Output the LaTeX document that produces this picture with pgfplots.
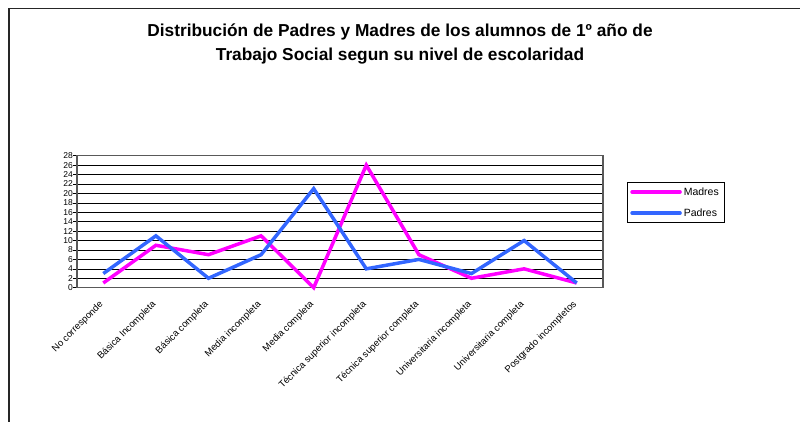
\documentclass[border=0pt]{standalone}
\usepackage{pgfplots}
\pgfplotsset{compat=1.18}
\usepackage{fontspec}
\setmainfont{Liberation Sans}
\definecolor{madres}{HTML}{FF00FF}
\definecolor{padres}{HTML}{3366FF}
\begin{document}
\begin{tikzpicture}[x=1pt,y=1pt]
\path[use as bounding box] (0pt,0pt) rectangle (800pt,422pt);
\draw[line width=1.5pt, black!85] (9pt,0pt) -- (9pt,413.5pt) -- (800pt,413.5pt);
\node[font=\bfseries\fontsize{17.3}{24}\selectfont, align=center] at (400pt,378pt) {Distribución de Padres y Madres de los alumnos de 1º año de\\Trabajo Social segun su nivel de escolaridad};
\begin{axis}[
  at={(77pt,134.3pt)}, anchor=south west,
  scale only axis, width=526pt, height=132pt,
  xmin=-0.5, xmax=9.5, ymin=0, ymax=28,
  ytick={0,2,...,28},
  ymajorgrids, grid style={black, line width=0.6pt},
  axis line style={gray!70!black, line width=1.2pt},
  xtick={0,...,9},
  xticklabels={No corresponde, Básica Incompleta, Básica completa, Media incompleta, Media completa, Técnica superior incompleta, Técnica superior completa, Universitaria incompleta, Universitaria completa, Postgrado incompletos},
  x tick style={draw=none},
  extra x ticks={-0.5,0.5,...,9.5},
  extra x tick labels={},
  extra x tick style={major tick length=4pt, tick style={black, line width=0.6pt}, tick align=outside},
  y tick style={black, line width=0.6pt},
  major tick length=4pt, tick align=outside,
  xtick pos=bottom, ytick pos=left,
  xticklabel style={rotate=45, anchor=east, font=\fontsize{9.5}{10}\selectfont, yshift=-7pt, xshift=-8pt},
  yticklabel style={font=\fontsize{8.5}{9}\selectfont, xshift=1pt},
  /pgf/number format/assume math mode=true,
  tick label style={inner sep=1pt},
  legend style={at={(1.0456,0.80)}, anchor=north west, draw=black, line width=0.6pt,
    font=\fontsize{10.5}{11}\selectfont, inner sep=3pt, row sep=8pt, cells={anchor=west}},
  legend image code/.code={\draw[#1, line width=3.5pt, line cap=round] (0pt,0pt) -- (48pt,0pt);},
  clip=false,
]
\addplot[madres, line width=3.5pt, line join=miter] coordinates {(0,1) (1,9) (2,7) (3,11) (4,0) (5,26) (6,7) (7,2) (8,4) (9,1)};
\addlegendentry{Madres}
\addplot[padres, line width=3.5pt, line join=miter] coordinates {(0,3) (1,11) (2,2) (3,7) (4,21) (5,4) (6,6) (7,3) (8,10) (9,1)};
\addlegendentry{Padres}
\end{axis}
\end{tikzpicture}
\end{document}
